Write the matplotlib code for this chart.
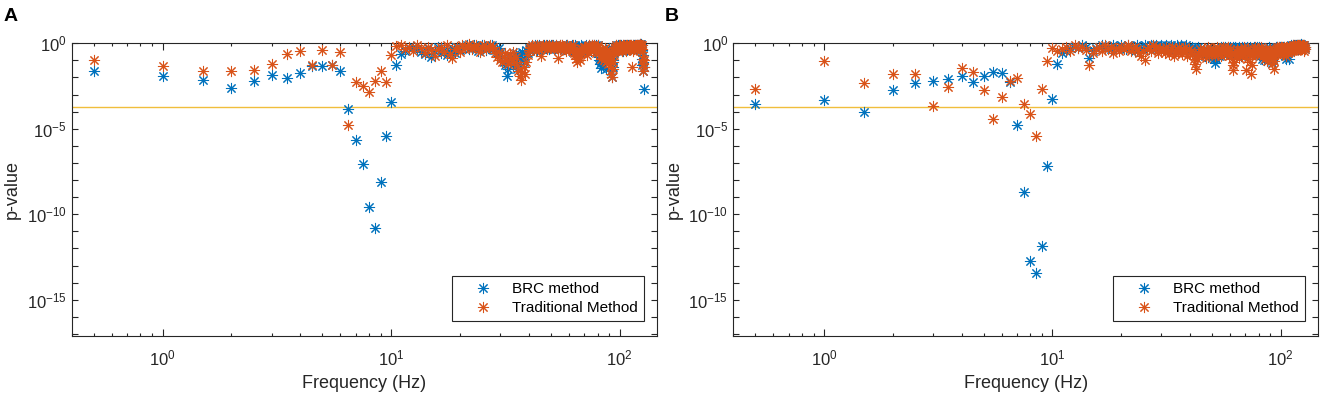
import numpy as np
import matplotlib
matplotlib.use('Agg')
import matplotlib.pyplot as plt
from matplotlib.ticker import FixedLocator, LogFormatterSciNotation, NullFormatter

plt.rcParams['font.family'] = ['Liberation Sans', 'DejaVu Sans']
plt.rcParams['mathtext.fontset'] = 'custom'
plt.rcParams['mathtext.rm'] = 'Liberation Sans'
plt.rcParams['mathtext.default'] = 'regular'

# frequencies: 0.5 Hz steps up to 128 Hz
freq = np.arange(1, 257) * 0.5

# log10(p-value), 20 values per line (line 1 = 0.5..10 Hz, line 2 = 10.5..20 Hz, ...)
a_brc_log = [
    -1.64, -1.89, -2.13, -2.62, -2.23, -1.85, -2.01, -1.76, -1.31, -1.33, -1.27, -1.60, -3.85, -5.68, -7.07, -9.59, -10.82, -8.13, -5.45, -3.42,
    -1.25, -0.62, -0.45, -0.3, -0.2, -0.35, -0.5, -0.65, -0.3, -0.8, -0.45, -0.25, -0.6, -0.4, -0.7, -0.45, -0.3, -0.55, -0.2, -0.4,
    -0.3, -0.2, -0.1, -0.35, -0.2, -0.1, -0.3, -0.45, -0.2, -0.1, -0.25, -0.4, -0.3, -0.2, -0.1, -0.25, -0.4, -0.55, -0.3, -0.6,
    -0.8, -1.1, -1.3, -1.89, -1.5, -1.0, -0.8, -1.3, -0.9, -0.6, -1.5, -1.2, -0.7, -1.0, -0.5, -1.1, -0.8, -0.4, -0.6, -0.3,
    -0.45, -0.3, -0.2, -0.35, -0.1, -0.2, -0.4, -0.3, -0.1, -0.2, -0.35, -0.2, -0.1, -0.25, -0.3, -0.1, -0.2, -0.35, -0.2, -0.1,
    -0.2, -0.1, -0.3, -0.2, -0.1, -0.25, -0.4, -0.2, -0.1, -0.3, -0.2, -0.1, -0.25, -0.35, -0.3, -0.1, -0.2, -0.1, -0.3, -0.2,
    -0.35, -0.2, -0.1, -0.3, -0.5, -0.35, -0.2, -0.1, -0.3, -0.6, -0.35, -0.2, -0.45, -0.3, -0.1, -0.35, -0.2, -0.5, -0.3, -0.2,
    -0.35, -0.2, -0.1, -0.3, -0.2, -0.1, -0.35, -0.2, -0.45, -0.3, -0.1, -0.2, -0.35, -0.1, -0.3, -0.2, -0.1, -0.35, -0.2, -0.1,
    -0.5, -0.8, -1.0, -1.2, -1.44, -1.1, -0.9, -0.6, -1.3, -1.0, -0.8, -0.5, -0.9, -1.5, -0.7, -0.4, -1.1, -0.8, -0.6, -0.3,
    -0.5, -0.9, -1.2, -1.6, -1.97, -1.4, -1.0, -0.6, -0.4, -0.2, -0.35, -0.1, -0.3, -0.2, -0.4, -0.1, -0.2, -0.35, -0.2, -0.1,
    -0.2, -0.35, -0.1, -0.3, -0.2, -0.45, -0.1, -0.2, -0.35, -0.3, -0.1, -0.2, -0.4, -0.2, -0.1, -0.35, -0.2, -0.1, -0.3, -0.2,
    -0.1, -0.2, -0.35, -0.2, -0.1, -0.3, -0.2, -0.1, -0.35, -0.2, -0.1, -0.2, -0.3, -0.1, -0.2, -0.35, -0.1, -0.2, -0.1, -0.2,
    -0.1, -0.2, -0.1, -0.05, -0.2, -0.1, -0.05, -0.2, -0.4, -0.9, -1.3, -1.6, -1.1, -0.7, -1.4, -2.67,
]
a_trad_log = [
    -1.01, -1.35, -1.64, -1.60, -1.58, -1.19, -0.66, -0.47, -1.29, -0.41, -1.27, -0.53, -4.78, -2.26, -2.52, -2.85, -2.19, -1.60, -2.28, -0.68,
    -0.17, -0.1, -0.35, -0.2, -0.45, -0.1, -0.3, -0.6, -0.2, -0.4, -0.75, -0.35, -0.2, -0.5, -0.1, -0.65, -0.85, -0.35, -0.2, -0.5,
    -0.1, -0.3, -0.2, -0.05, -0.35, -0.2, -0.1, -0.3, -0.5, -0.2, -0.1, -0.35, -0.2, -0.1, -0.3, -0.2, -0.6, -0.8, -0.5, -1.0,
    -1.1, -0.8, -0.6, -1.0, -1.2, -0.7, -0.9, -0.5, -1.1, -0.8, -1.3, -1.6, -1.9, -2.13, -1.7, -1.4, -1.8, -1.1, -0.7, -0.4,
    -0.3, -0.2, -0.1, -0.3, -0.2, -0.45, -0.1, -0.2, -0.35, -0.75, -0.2, -0.1, -0.3, -0.2, -0.1, -0.35, -0.2, -0.1, -0.3, -0.2,
    -0.1, -0.2, -0.35, -0.2, -0.1, -0.3, -0.85, -0.2, -0.1, -0.35, -0.2, -0.1, -0.3, -0.2, -0.35, -0.45, -0.2, -0.1, -0.3, -0.2,
    -0.35, -0.2, -0.45, -0.3, -0.1, -0.55, -0.35, -0.7, -0.9, -1.1, -0.6, -0.4, -0.8, -1.0, -0.5, -0.3, -0.6, -0.4, -0.2, -0.3,
    -0.2, -0.45, -0.3, -0.7, -0.35, -0.2, -0.1, -0.3, -0.2, -0.35, -0.1, -0.2, -0.45, -0.3, -0.1, -0.35, -0.2, -0.55, -0.3, -0.1,
    -0.2, -0.35, -0.5, -0.4, -0.7, -0.9, -0.6, -0.4, -0.7, -1.0, -0.5, -0.3, -0.8, -1.1, -0.6, -0.4, -0.9, -1.2, -0.7, -0.5,
    -0.7, -1.0, -1.4, -1.8, -1.97, -1.5, -1.1, -0.7, -0.5, -0.3, -0.2, -0.4, -0.1, -0.35, -0.2, -0.3, -0.45, -0.1, -0.2, -0.35,
    -0.1, -0.2, -0.35, -0.2, -0.45, -0.1, -0.3, -0.2, -0.1, -0.35, -0.2, -0.45, -0.1, -0.3, -0.2, -0.1, -0.35, -0.2, -0.1, -0.3,
    -0.2, -0.1, -0.35, -0.2, -0.1, -1.4, -0.2, -0.45, -0.1, -0.2, -0.35, -0.1, -0.2, -0.3, -0.1, -0.2, -0.35, -0.1, -0.2, -0.1,
    -0.2, -0.1, -0.3, -0.05, -0.2, -0.2, -0.1, -0.2, -0.1, -0.35, -0.5, -0.9, -1.2, -1.64, -1.4, -1.0,
]
b_brc_log = [
    -3.55, -3.30, -4.00, -2.71, -2.32, -2.23, -2.09, -1.93, -2.26, -1.93, -1.70, -1.74, -2.26, -4.77, -8.69, -12.72, -13.46, -11.84, -7.15, -3.24,
    -1.21, -0.6, -0.45, -0.3, -0.2, -0.3, -0.1, -0.2, -0.86, -0.45, -0.3, -0.2, -0.1, -0.3, -0.2, -0.35, -0.1, -0.2, -0.3, -0.1,
    -0.2, -0.35, -0.1, -0.3, -0.2, -0.45, -0.1, -0.2, -0.35, -0.3, -0.1, -0.2, -0.35, -0.1, -0.3, -0.2, -0.1, -0.35, -0.2, -0.1,
    -0.3, -0.2, -0.1, -0.35, -0.2, -0.1, -0.3, -0.2, -0.35, -0.1, -0.2, -0.3, -0.1, -0.2, -0.35, -0.2, -0.1, -0.3, -0.2, -0.45,
    -0.35, -0.2, -0.45, -0.3, -0.55, -0.35, -0.2, -0.5, -0.35, -0.65, -0.45, -0.35, -0.75, -0.55, -0.35, -0.8, -0.45, -0.65, -0.35, -0.55,
    -0.75, -0.95, -1.15, -0.9, -0.65, -0.45, -0.75, -0.35, -0.55, -0.2, -0.45, -0.35, -0.65, -0.2, -0.45, -0.35, -0.2, -0.55, -0.35, -0.2,
    -0.45, -0.35, -0.2, -0.55, -0.35, -0.2, -0.45, -0.3, -0.65, -0.35, -0.2, -0.45, -0.35, -0.75, -0.45, -0.2, -0.35, -0.55, -0.3, -0.45,
    -0.35, -0.2, -0.45, -0.3, -0.55, -0.35, -0.2, -0.45, -0.65, -0.35, -0.45, -0.2, -0.35, -0.55, -0.3, -0.45, -0.2, -0.35, -0.45, -0.2,
    -0.35, -0.55, -0.75, -0.45, -0.65, -0.9, -0.55, -0.75, -1.0, -0.65, -0.45, -0.85, -0.55, -0.35, -0.65, -0.45, -0.2, -0.35, -0.55, -0.75,
    -0.9, -1.05, -1.15, -1.0, -0.85, -0.65, -0.45, -0.35, -0.55, -0.2, -0.45, -0.35, -0.2, -0.55, -0.35, -0.2, -0.45, -0.3, -0.2, -0.35,
    -0.2, -0.45, -0.35, -0.2, -0.55, -0.35, -0.2, -0.45, -0.75, -0.95, -0.65, -0.35, -0.2, -0.45, -0.3, -0.2, -0.35, -0.95, -0.2, -0.35,
    -0.2, -0.1, -0.3, -0.2, -0.35, -0.1, -0.2, -0.3, -0.1, -0.2, -0.35, -0.2, -0.1, -0.3, -0.2, -0.1, -0.35, -0.2, -0.1, -0.2,
    -0.1, -0.2, -0.3, -0.1, -0.2, -0.05, -0.2, -0.1, -0.35, -0.2, -0.1, -0.3, -0.2, -0.1, -0.35, -0.2,
]
b_trad_log = [
    -2.66, -1.05, -2.32, -1.78, -1.78, -3.65, -2.58, -1.44, -1.70, -2.71, -4.41, -3.16, -2.23, -2.03, -3.55, -4.14, -5.45, -2.67, -1.05, -0.27,
    -0.47, -0.35, -0.2, -0.45, -0.1, -0.3, -0.2, -0.4, -1.25, -0.55, -0.35, -0.2, -0.45, -0.1, -0.35, -0.2, -0.55, -0.3, -0.45, -0.2,
    -0.35, -0.2, -0.1, -0.45, -0.3, -0.2, -0.35, -0.55, -0.75, -0.45, -0.96, -0.35, -0.2, -0.45, -0.1, -0.35, -0.2, -0.55, -0.3, -0.45,
    -0.35, -0.55, -0.2, -0.45, -0.65, -0.35, -0.2, -0.75, -0.45, -0.35, -0.55, -0.2, -0.45, -0.65, -0.35, -0.2, -0.45, -0.75, -0.35, -0.55,
    -0.45, -0.65, -0.95, -1.2, -1.5, -0.9, -0.55, -0.75, -0.35, -0.45, -0.65, -0.35, -0.55, -0.85, -0.45, -0.2, -0.65, -0.35, -0.55, -0.45,
    -0.35, -0.55, -0.75, -0.45, -0.2, -0.65, -0.35, -0.55, -0.45, -0.75, -0.35, -0.2, -0.55, -0.45, -0.65, -0.35, -0.2, -0.45, -0.75, -0.35,
    -0.55, -0.95, -1.3, -1.58, -1.1, -0.65, -0.45, -0.75, -0.35, -0.55, -0.85, -0.45, -0.65, -0.35, -0.55, -0.75, -0.45, -0.2, -0.55, -0.35,
    -1.55, -0.9, -0.55, -0.35, -0.65, -0.45, -1.1, -1.78, -1.25, -0.75, -0.45, -0.65, -0.35, -0.55, -0.2, -0.45, -0.65, -0.35, -0.55, -0.45,
    -0.35, -0.65, -0.45, -0.2, -0.55, -0.35, -0.75, -0.45, -0.65, -0.9, -0.55, -0.35, -0.75, -1.05, -0.65, -0.45, -0.85, -0.55, -0.35, -0.65,
    -0.45, -0.75, -0.95, -1.2, -0.9, -1.5, -1.05, -0.65, -0.45, -0.35, -0.55, -0.2, -0.45, -0.35, -0.65, -0.2, -0.45, -0.35, -0.55, -0.2,
    -0.45, -0.35, -0.2, -0.55, -0.35, -0.65, -0.2, -0.45, -0.35, -0.75, -0.2, -0.45, -0.35, -0.2, -0.55, -0.35, -0.2, -0.45, -0.35, -0.2,
    -0.35, -0.2, -0.45, -0.3, -0.2, -0.35, -0.1, -0.45, -0.2, -0.35, -0.1, -0.3, -0.2, -0.35, -0.1, -0.2, -0.3, -0.1, -0.2, -0.35,
    -0.1, -0.2, -0.35, -0.1, -0.2, -0.3, -0.1, -0.2, -0.35, -0.1, -0.2, -0.45, -0.3, -0.1, -0.2, -0.35,
]

threshold = 0.05 / 256
series_names = ['BRC method', 'Traditional Method']
panel_labels = ['A', 'B']

blue = '#0072BD'
orange = '#D95319'
axcol = '#262626'
star = (8, 2, 0)

fig = plt.figure(figsize=(13.25, 3.97), dpi=100)
fig.patch.set_facecolor('white')

positions = [[0.0541, 0.1544, 0.4420, 0.7368], [0.5534, 0.1544, 0.4415, 0.7368]]
panels = [(a_brc_log, a_trad_log), (b_brc_log, b_trad_log)]

for pos, (brc, trad), lab in zip(positions, panels, panel_labels):
    ax = fig.add_axes(pos)
    ax.set_xscale('log')
    ax.set_yscale('log')
    ax.plot(freq, 10.0 ** np.array(brc), linestyle='none', marker=star, ms=8, mew=0.75,
            color=blue, label=series_names[0], clip_on=False, zorder=3)
    ax.plot(freq, 10.0 ** np.array(trad), linestyle='none', marker=star, ms=8, mew=0.75,
            color=orange, label=series_names[1], clip_on=False, zorder=4)
    ax.axhline(threshold, color='#F0BE3C', lw=1.0, zorder=2)

    ax.set_xlim(0.4, 146)
    ax.set_ylim(10 ** -17.1, 1)

    ax.yaxis.set_major_locator(FixedLocator([1e0, 1e-5, 1e-10, 1e-15]))
    ax.yaxis.set_minor_locator(FixedLocator([10.0 ** -k for k in range(1, 18) if k % 5]))
    ax.yaxis.set_minor_formatter(NullFormatter())
    ax.yaxis.set_major_formatter(LogFormatterSciNotation())

    ax.tick_params(which='both', direction='in', top=True, right=True, color=axcol,
                   labelcolor=axcol, labelsize=12, width=0.8)
    ax.tick_params(axis='x', which='major', length=5, pad=9)
    ax.tick_params(axis='x', which='minor', length=2.5)
    ax.tick_params(axis='y', which='both', length=4)
    for sp in ax.spines.values():
        sp.set_color(axcol)
        sp.set_linewidth(0.8)

    ax.set_xlabel('Frequency (Hz)', fontsize=13, color=axcol, labelpad=5)
    ax.set_ylabel('p-value', fontsize=13, color=axcol, labelpad=4)

    leg = ax.legend(loc='lower right', bbox_to_anchor=(0.978, 0.049), borderaxespad=0,
                    fontsize=11, numpoints=1, fancybox=False, framealpha=1,
                    edgecolor=axcol, handlelength=3.2, handletextpad=0.3,
                    borderpad=0.42, labelspacing=0.3)
    leg.get_frame().set_linewidth(0.8)

    fig.text(pos[0] - 0.0515, 1 - 8 / 397, lab, fontsize=14, fontweight='bold',
             ha='left', va='top', color='black')

fig.savefig('out.png', dpi=100)
